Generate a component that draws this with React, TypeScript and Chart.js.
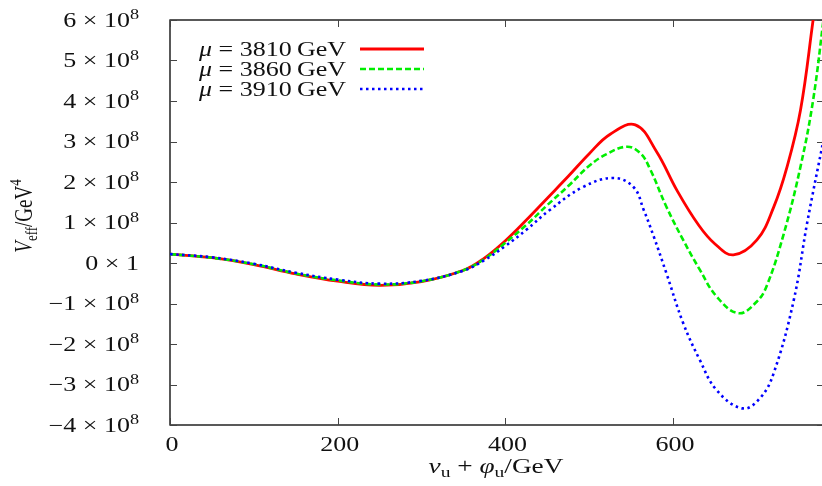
import React, { useEffect, useRef } from "react";
import { Chart, registerables } from "chart.js";

Chart.register(...registerables);

// values in units of 1e8 GeV^4
const X_RED = [0, 50, 100, 150, 200, 250, 300, 350, 375, 400, 425, 450, 475, 500, 525, 555, 580, 605, 630, 650, 672, 700, 720, 736, 752, 767, 780];
const Y_RED = [0.22, 0.13, -0.04, -0.27, -0.45, -0.55, -0.46, -0.18, 0.12, 0.55, 1.06, 1.6, 2.14, 2.7, 3.18, 3.41, 2.76, 1.78, 0.95, 0.47, 0.2, 0.57, 1.38, 2.38, 3.78, 6.0, 8.0];

const X_GREEN = [0, 50, 100, 150, 200, 250, 300, 350, 375, 400, 425, 450, 475, 500, 520, 545, 561, 573, 592, 612, 632, 652, 678, 700, 712, 732, 752, 767, 780];
const Y_GREEN = [0.22, 0.13, -0.03, -0.26, -0.43, -0.53, -0.45, -0.18, 0.1, 0.5, 0.94, 1.43, 1.9, 2.4, 2.68, 2.87, 2.71, 2.3, 1.39, 0.57, -0.17, -0.83, -1.24, -0.95, -0.55, 0.72, 2.38, 4.02, 6.1];

const X_BLUE = [0, 50, 100, 150, 200, 250, 300, 350, 375, 400, 425, 453, 493, 529, 553, 565, 577, 592, 612, 632, 652, 683, 704, 720, 744, 760, 780];
const Y_BLUE = [0.22, 0.14, -0.02, -0.24, -0.41, -0.51, -0.44, -0.19, 0.07, 0.42, 0.82, 1.31, 1.88, 2.1, 1.87, 1.31, 0.65, -0.25, -1.48, -2.4, -3.14, -3.59, -3.33, -2.72, -0.91, 1.0, 3.1];

const SERIES_LABELS = ["3810", "3860", "3910"];
const X_TICKS = [0, 200, 400, 600];
const Y_TICKS = [-4, -3, -2, -1, 0, 1, 2, 3, 4, 5, 6];
const Y_MIN = -4;
const Y_MAX = 6;
const X_MIN = 0;
const X_MAX = 780;

const SX = 1.3;
const FAM = '"Liberation Serif", "DejaVu Serif", serif';

type Run = { t: string; s: number; it?: boolean; dy?: number };

function fontOf(r: Run) {
  return `${r.it ? "italic " : ""}${r.s}px ${FAM}`;
}

function richWidth(ctx: CanvasRenderingContext2D, runs: Run[]) {
  let w = 0;
  for (const r of runs) {
    ctx.font = fontOf(r);
    w += ctx.measureText(r.t).width;
  }
  return w;
}

function drawRich(
  ctx: CanvasRenderingContext2D,
  runs: Run[],
  x: number,
  y: number,
  align: "left" | "center" | "right",
  rot = false
) {
  const W = richWidth(ctx, runs);
  ctx.save();
  ctx.translate(x, y);
  ctx.scale(SX, 1);
  if (rot) ctx.rotate(-Math.PI / 2);
  ctx.textAlign = "left";
  ctx.textBaseline = "alphabetic";
  ctx.fillStyle = "#111";
  let u = align === "right" ? -W : align === "center" ? -W / 2 : 0;
  for (const r of runs) {
    ctx.font = fontOf(r);
    ctx.fillText(r.t, u, r.dy || 0);
    u += ctx.measureText(r.t).width;
  }
  ctx.restore();
}

const STYLES = [
  { color: "#ff0000", dash: [] as number[], width: 2.8 },
  { color: "#00ee00", dash: [6, 3], width: 2.6 },
  { color: "#0000ff", dash: [2.5, 3.5], width: 2.6 },
];

const gnuplotPlugin = {
  id: "gnuplotFrame",
  beforeDatasetsDraw(chart: any) {
    const { ctx, chartArea: a, scales } = chart;
    ctx.save();
    ctx.strokeStyle = "#000";
    ctx.lineWidth = 1.3;
    ctx.strokeRect(a.left, a.top, a.right - a.left, a.bottom - a.top);
    ctx.strokeStyle = "#444";
    ctx.lineWidth = 1;
    const L = 7;
    for (const v of X_TICKS) {
      const px = Math.round(scales.x.getPixelForValue(v)) + 0.5;
      ctx.beginPath();
      ctx.moveTo(px, a.bottom);
      ctx.lineTo(px, a.bottom - L);
      ctx.moveTo(px, a.top);
      ctx.lineTo(px, a.top + L);
      ctx.stroke();
    }
    for (const v of Y_TICKS) {
      const py = Math.round(scales.y.getPixelForValue(v)) + 0.5;
      ctx.beginPath();
      ctx.moveTo(a.left, py);
      ctx.lineTo(a.left + L, py);
      ctx.moveTo(a.right, py);
      ctx.lineTo(a.right - L, py);
      ctx.stroke();
    }
    ctx.restore();
  },
  afterDraw(chart: any) {
    const { ctx, scales } = chart;
    ctx.save();
    // y tick labels
    for (const v of Y_TICKS) {
      const py = scales.y.getPixelForValue(v);
      const base = py + 6.5;
      let runs: Run[];
      if (v === 0) {
        runs = [
          { t: "0", s: 20 },
          { t: " \u00d7 ", s: 20 },
          { t: "1", s: 20 },
        ];
      } else {
        const m = (v < 0 ? "\u2212" : "") + Math.abs(v);
        runs = [
          { t: m, s: 20 },
          { t: " \u00d7 ", s: 20 },
          { t: "10", s: 20 },
          { t: "8", s: 14, dy: -7.5 },
        ];
      }
      drawRich(ctx, runs, 139, base, "right");
    }
    // x tick labels
    for (const v of X_TICKS) {
      const px = scales.x.getPixelForValue(v);
      drawRich(ctx, [{ t: String(v), s: 20 }], px + 2, 451, "center");
    }
    // x title
    drawRich(
      ctx,
      [
        { t: "\u03bd", s: 21, it: true },
        { t: "u", s: 15, dy: 4 },
        { t: " + ", s: 21 },
        { t: "\u03c6", s: 21, it: true },
        { t: "u", s: 15, dy: 4 },
        { t: "/GeV", s: 21 },
      ],
      496,
      473,
      "center"
    );
    // y title (rotated)
    drawRich(
      ctx,
      [
        { t: "V", s: 19, it: true },
        { t: "eff", s: 13, dy: 4 },
        { t: "/GeV", s: 19 },
        { t: "4", s: 13, dy: -8 },
      ],
      31.5,
      216,
      "center",
      true
    );
    // legend
    for (let i = 0; i < 3; i++) {
      const yc = 49 + 20 * i;
      drawRich(
        ctx,
        [
          { t: "\u03bc", s: 20, it: true },
          { t: " = ", s: 20 },
          { t: SERIES_LABELS[i], s: 20 },
          { t: "\u2009GeV", s: 20 },
        ],
        346,
        yc + 6.5,
        "right"
      );
      const st = STYLES[i];
      ctx.save();
      ctx.strokeStyle = st.color;
      ctx.lineWidth = st.width;
      ctx.setLineDash(st.dash);
      ctx.lineCap = "butt";
      ctx.beginPath();
      ctx.moveTo(360, yc);
      ctx.lineTo(424, yc);
      ctx.stroke();
      ctx.restore();
    }
    ctx.restore();
  },
};

function pts(xs: number[], ys: number[]) {
  return xs.map((x, i) => ({ x, y: ys[i] }));
}

export default function App() {
  const ref = useRef<HTMLCanvasElement | null>(null);
  useEffect(() => {
    if (!ref.current) return;
    const series = [pts(X_RED, Y_RED), pts(X_GREEN, Y_GREEN), pts(X_BLUE, Y_BLUE)];
    const chart = new Chart(ref.current, {
      type: "line",
      data: {
        datasets: series.map((d, i) => ({
          label: "\u03bc = " + SERIES_LABELS[i] + " GeV",
          data: d,
          borderColor: STYLES[i].color,
          borderWidth: STYLES[i].width,
          borderDash: STYLES[i].dash,
          pointRadius: 0,
          fill: false,
          tension: 0.4,
          order: 2 - i,
        })),
      },
      options: {
        animation: false,
        responsive: false,
        devicePixelRatio: 1,
        layout: { padding: { top: 20, left: 0, right: 2, bottom: 0 } },
        plugins: { legend: { display: false }, tooltip: { enabled: false } },
        events: [],
        scales: {
          x: {
            type: "linear",
            min: X_MIN,
            max: X_MAX,
            ticks: { display: false, stepSize: 200 },
            grid: { display: false },
            border: { display: false },
            afterFit: (s: any) => {
              s.height = 61;
            },
          },
          y: {
            type: "linear",
            min: Y_MIN,
            max: Y_MAX,
            ticks: { display: false, stepSize: 1 },
            grid: { display: false },
            border: { display: false },
            afterFit: (s: any) => {
              s.width = 170;
            },
          },
        },
      },
      plugins: [gnuplotPlugin],
    });
    return () => chart.destroy();
  }, []);
  return (
    <div
      style={{
        position: "absolute",
        left: 0,
        top: 0,
        width: 822,
        height: 486,
        overflow: "hidden",
        background: "#fff",
      }}
    >
      <canvas ref={ref} width={826} height={486} style={{ width: 826, height: 486, display: "block" }} />
    </div>
  );
}
